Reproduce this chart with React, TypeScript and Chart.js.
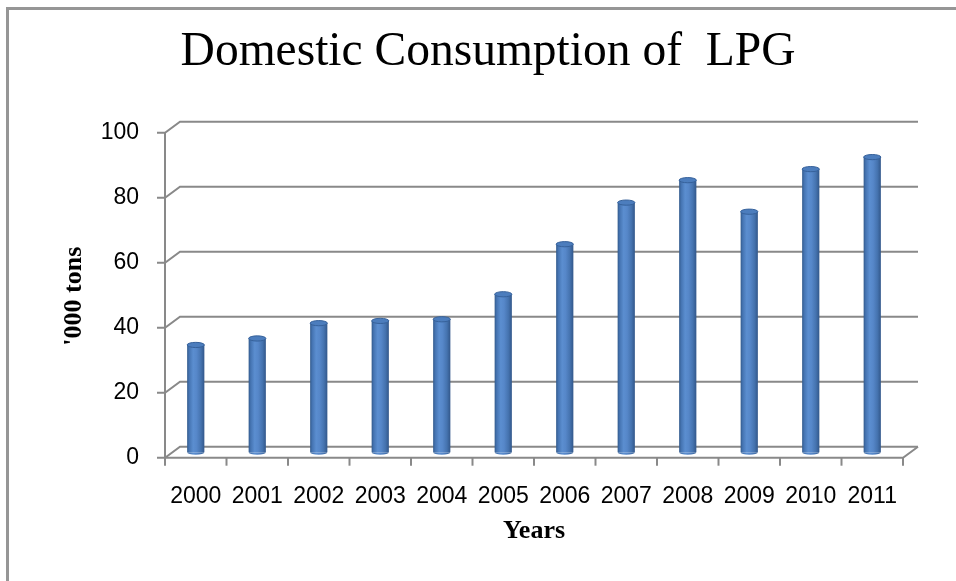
import React, { useEffect, useRef } from "react";
import { Chart, registerables } from "chart.js";

Chart.register(...registerables);

// ---- data ----
const years = ["2000", "2001", "2002", "2003", "2004", "2005", "2006", "2007", "2008", "2009", "2010", "2011"];
const consumption = [33.0, 35.0, 39.7, 40.4, 40.9, 48.6, 64.0, 76.8, 83.7, 74.0, 87.1, 90.8];
const yTickValues = [0, 20, 40, 60, 80, 100];
const chartTitle = "Domestic Consumption of  LPG";
const yTitle = "'000 tons";
const xTitle = "Years";

// ---- style ----
const DX = 15; // depth offset x
const DY = 11; // depth offset y
const GRID = "#898989";
const BAR_FRAC = 0.28;

function makeGrad(ctx: CanvasRenderingContext2D, cx: number, rx: number) {
  if (!isFinite(cx) || !isFinite(rx) || rx <= 0) return "#4f81bd";
  const g = ctx.createLinearGradient(cx - rx, 0, cx + rx, 0);
  g.addColorStop(0, "#325a8c");
  g.addColorStop(0.12, "#4574b2");
  g.addColorStop(0.35, "#5b8ed0");
  g.addColorStop(0.55, "#5687c9");
  g.addColorStop(0.8, "#4573af");
  g.addColorStop(1, "#32578a");
  return g;
}

const frame3d = {
  id: "frame3d",
  beforeDatasetsDraw(chart: any) {
    const { ctx, chartArea: a, scales } = chart;
    const x = scales.x;
    const y = scales.y;
    const h = DY / 2;
    const L = a.left;
    const R = a.right;
    ctx.save();
    ctx.strokeStyle = GRID;
    ctx.lineWidth = 2;
    ctx.lineJoin = "miter";
    y.ticks.forEach((t: any) => {
      const py = y.getPixelForValue(t.value);
      ctx.beginPath();
      ctx.moveTo(L - 8, py + h);
      ctx.lineTo(L, py + h);
      ctx.lineTo(L + DX, py - h);
      ctx.lineTo(R + DX, py - h);
      ctx.stroke();
    });
    const y0 = y.getPixelForValue(yTickValues[0]);
    const yTop = y.getPixelForValue(yTickValues[yTickValues.length - 1]);
    ctx.beginPath();
    ctx.moveTo(L, yTop + h);
    ctx.lineTo(L, y0 + h);
    ctx.lineTo(R, y0 + h);
    ctx.lineTo(R + DX, y0 - h);
    ctx.stroke();
    const n = years.length;
    for (let i = 0; i <= n; i++) {
      const px = x.getPixelForDecimal(i / n);
      ctx.beginPath();
      ctx.moveTo(px, y0 + h);
      ctx.lineTo(px, y0 + h + 8);
      ctx.stroke();
    }
    ctx.restore();
  },
  afterDatasetsDraw(chart: any) {
    const { ctx } = chart;
    const meta = chart.getDatasetMeta(0);
    ctx.save();
    meta.data.forEach((el: any) => {
      const p = el.getProps(["x", "y", "base", "width"], true);
      const rx = p.width / 2;
      const ry = 2.6;
      ctx.beginPath();
      ctx.ellipse(p.x, p.base, rx, ry, 0, 0, Math.PI);
      ctx.fillStyle = makeGrad(ctx, p.x, rx);
      ctx.fill();
      ctx.beginPath();
      ctx.ellipse(p.x, p.y, rx, ry, 0, 0, Math.PI * 2);
      ctx.fillStyle = "#4c7dbd";
      ctx.fill();
      ctx.strokeStyle = "#36619a";
      ctx.lineWidth = 1;
      ctx.stroke();
    });
    ctx.restore();
  },
};

export default function App() {
  const ref = useRef<HTMLCanvasElement | null>(null);
  useEffect(() => {
    document.body.style.overflow = "hidden";
    const canvas = ref.current;
    if (!canvas) return;
    const chart = new Chart(canvas, {
      type: "bar",
      data: {
        labels: years,
        datasets: [
          {
            data: consumption,
            barPercentage: BAR_FRAC,
            categoryPercentage: 1,
            borderWidth: 0,
            backgroundColor: (c: any) => {
              const xs = c.chart.scales && c.chart.scales.x;
              if (c.type !== "data" || !xs || !xs.width) return "#4f81bd";
              const cx = xs.getPixelForValue(c.dataIndex);
              const w = (xs.width / years.length) * BAR_FRAC;
              return makeGrad(c.chart.ctx, cx, w / 2);
            },
          },
        ],
      },
      options: {
        responsive: false,
        animation: false,
        layout: { padding: { left: 20, right: 0, top: 0, bottom: 0 } },
        plugins: {
          legend: { display: false },
          tooltip: { enabled: false },
          title: {
            display: true,
            text: chartTitle,
            color: "#000",
            font: { family: "'Liberation Serif', serif", size: 47.5, weight: "normal", lineHeight: 1.2 },
            padding: { top: 23.8, bottom: 46.4 },
          },
        },
        scales: {
          x: {
            offset: true,
            grid: { display: false, drawTicks: false },
            border: { display: false },
            ticks: {
              color: "#000",
              font: { family: "'Liberation Sans', sans-serif", size: 23 },
              padding: 30.5,
              maxRotation: 0,
              autoSkip: false,
            },
            title: {
              display: true,
              text: xTitle,
              color: "#000",
              font: { family: "'Liberation Serif', serif", size: 26, weight: "bold", lineHeight: 1.2 },
              padding: { top: 0, bottom: 34.2 },
            },
            afterFit: (s: any) => {
              s.height = 128.8;
            },
          },
          y: {
            min: 0,
            max: 100,
            grid: { display: false, drawTicks: false },
            border: { display: false },
            afterBuildTicks: (s: any) => {
              s.ticks = yTickValues.map((v) => ({ value: v }));
            },
            ticks: {
              color: "#000",
              font: { family: "'Liberation Sans', sans-serif", size: 23 },
              padding: 26,
              labelOffset: DY / 2,
            },
            title: {
              display: true,
              text: yTitle + "  ",
              color: "#000",
              font: { family: "'Liberation Serif', serif", size: 26, weight: "bold", lineHeight: 1.2 },
              padding: { top: 38.9, bottom: 0 },
            },
            afterFit: (s: any) => {
              s.width = 145;
            },
          },
          yR: {
            position: "right",
            display: true,
            grid: { display: false, drawTicks: false },
            border: { display: false },
            ticks: { display: false },
            afterFit: (s: any) => {
              s.width = 53;
            },
          },
        },
      },
      plugins: [frame3d],
    } as any);
    return () => chart.destroy();
  }, []);

  return (
    <div>
      <div
        style={{
          position: "absolute",
          left: 6,
          top: 7,
          width: 947,
          height: 571,
          borderLeft: "3px solid #969696",
          borderTop: "3px solid #969696",
        }}
      />
      <canvas
        ref={ref}
        width={956}
        height={581}
        style={{ position: "absolute", left: 0, top: 0, width: 956, height: 581 }}
      />
    </div>
  );
}
